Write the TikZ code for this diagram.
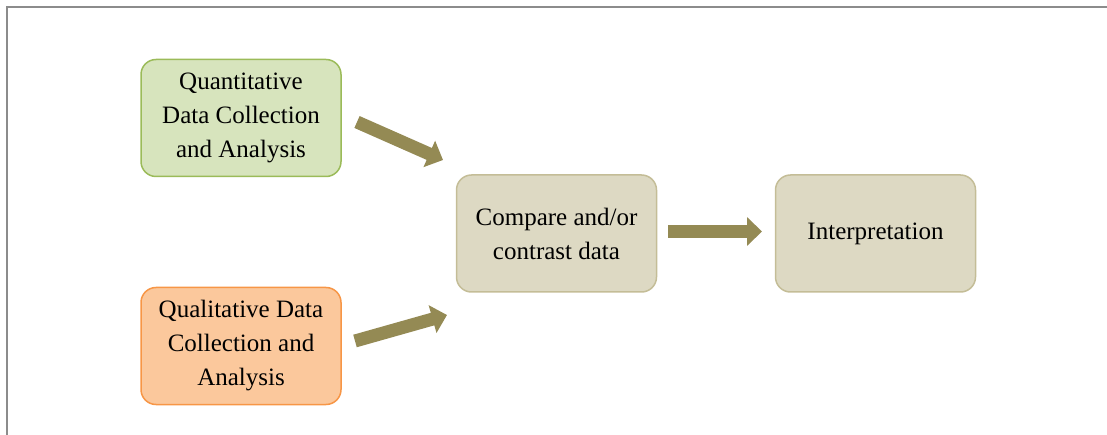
\documentclass[tikz,border=0pt]{standalone}
\usepackage{fontspec}
\setmainfont{Liberation Serif}
\usetikzlibrary{arrows.meta}
\definecolor{greenfill}{HTML}{D7E4BD}
\definecolor{greenline}{HTML}{9BBB59}
\definecolor{orangefill}{HTML}{FBC89C}
\definecolor{orangeline}{HTML}{F79646}
\definecolor{tanfill}{HTML}{DDD9C3}
\definecolor{tanline}{HTML}{C4BD97}
\definecolor{arrowcol}{HTML}{948A54}
\definecolor{framecol}{HTML}{8C8C8C}
\begin{document}
\begin{tikzpicture}[x=1pt,y=-1pt,
  box/.style={rounded corners=15pt, line width=1.5pt, minimum width=200pt, minimum height=117pt,
    inner sep=0pt, align=center, font=\fontsize{25}{34}\selectfont},
  greenbox/.style={box, fill=greenfill, draw=greenline},
  orangebox/.style={box, fill=orangefill, draw=orangeline},
  tanbox/.style={box, fill=tanfill, draw=tanline},
  blockarrow/.style={draw=arrowcol, line width=13pt,
    -{Triangle[width=28pt,length=15pt,fill=arrowcol]}}
]
\useasboundingbox (0,0) rectangle (1107,435);
\draw[framecol, line width=1.6pt] (7,435) -- (7,7) -- (1107,7);

\node[greenbox] (quant) at (241,118) {Quantitative\\Data Collection\\and Analysis};
\node[orangebox] (qual) at (241,346) {Qualitative Data\\Collection and\\Analysis};
\node[tanbox] (compare) at (556.5,233.5) {Compare and/or\\contrast data};
\node[tanbox] (interp) at (875.5,233.5) {Interpretation};

\coordinate (a1s) at (357,122);
\coordinate (a1e) at (443,160);
\coordinate (a2s) at (355,341);
\coordinate (a2e) at (447,315);
\coordinate (a3s) at (668,231.5);
\coordinate (a3e) at (762,231.5);

\draw[blockarrow] (a1s) -- (a1e);
\draw[blockarrow] (a2s) -- (a2e);
\draw[blockarrow] (a3s) -- (a3e);
\end{tikzpicture}
\end{document}
